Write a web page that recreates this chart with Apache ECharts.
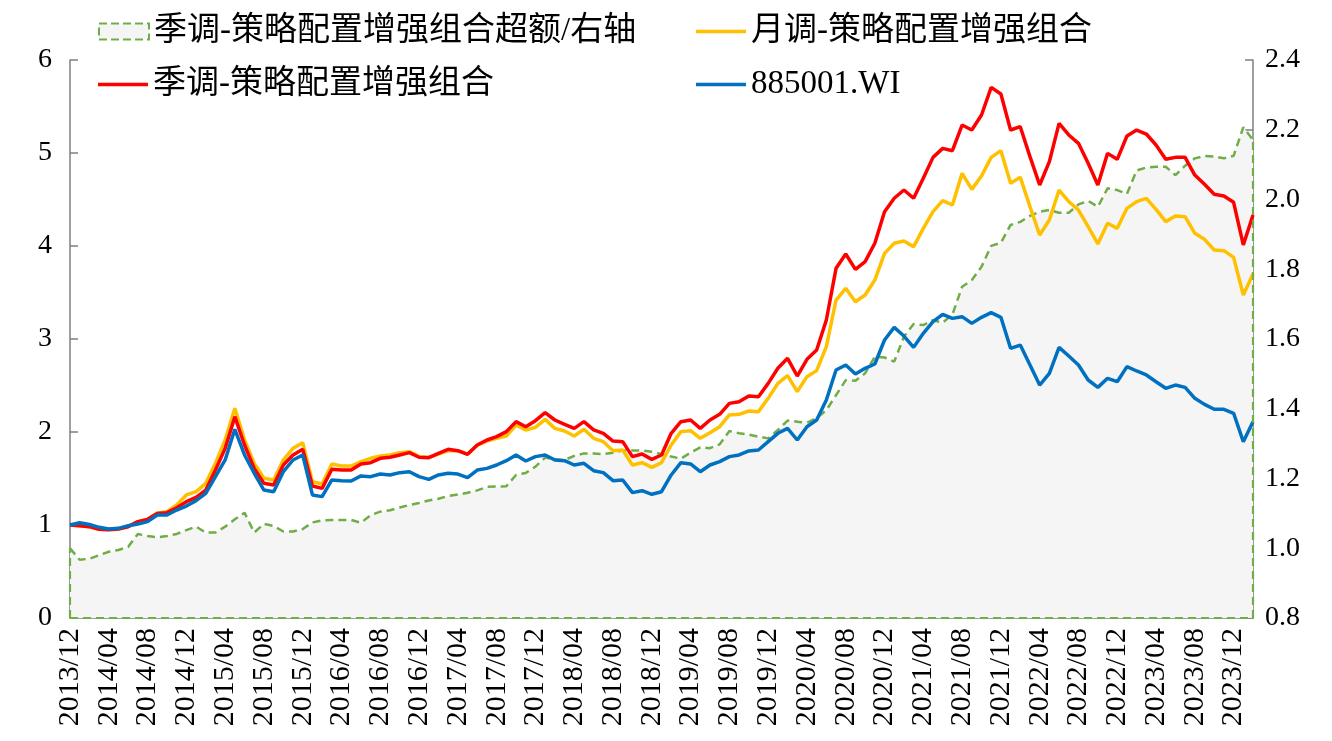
<!DOCTYPE html>
<html><head><meta charset="utf-8">
<script src="https://cdn.jsdelivr.net/npm/echarts@6/dist/echarts.min.js"></script>
<style>html,body{margin:0;padding:0;background:#fff}#c{width:1332px;height:741px}</style>
</head><body><div id="c"></div>
<script>
const categories = ['2013/12',
'2014/01','2014/02','2014/03','2014/04','2014/05','2014/06','2014/07','2014/08','2014/09','2014/10','2014/11','2014/12',
'2015/01','2015/02','2015/03','2015/04','2015/05','2015/06','2015/07','2015/08','2015/09','2015/10','2015/11','2015/12',
'2016/01','2016/02','2016/03','2016/04','2016/05','2016/06','2016/07','2016/08','2016/09','2016/10','2016/11','2016/12',
'2017/01','2017/02','2017/03','2017/04','2017/05','2017/06','2017/07','2017/08','2017/09','2017/10','2017/11','2017/12',
'2018/01','2018/02','2018/03','2018/04','2018/05','2018/06','2018/07','2018/08','2018/09','2018/10','2018/11','2018/12',
'2019/01','2019/02','2019/03','2019/04','2019/05','2019/06','2019/07','2019/08','2019/09','2019/10','2019/11','2019/12',
'2020/01','2020/02','2020/03','2020/04','2020/05','2020/06','2020/07','2020/08','2020/09','2020/10','2020/11','2020/12',
'2021/01','2021/02','2021/03','2021/04','2021/05','2021/06','2021/07','2021/08','2021/09','2021/10','2021/11','2021/12',
'2022/01','2022/02','2022/03','2022/04','2022/05','2022/06','2022/07','2022/08','2022/09','2022/10','2022/11','2022/12',
'2023/01','2023/02','2023/03','2023/04','2023/05','2023/06','2023/07','2023/08','2023/09','2023/10','2023/11','2023/12',
'2024/01','2024/02'];

const seriesNames = ['季调-策略配置增强组合超额/右轴','月调-策略配置增强组合','季调-策略配置增强组合','885001.WI'];

const excessQ = [1.000,
0.967,0.970,0.980,0.990,0.995,1.004,1.041,1.035,1.031,1.035,1.041,1.052,
1.062,1.045,1.045,1.062,1.083,1.102,1.045,1.070,1.064,1.048,1.048,1.055,
1.074,1.080,1.081,1.081,1.081,1.073,1.095,1.105,1.109,1.117,1.124,1.130,
1.137,1.142,1.150,1.154,1.159,1.166,1.176,1.177,1.178,1.210,1.216,1.234,
1.260,1.255,1.253,1.265,1.272,1.272,1.270,1.274,1.280,1.280,1.280,1.277,
1.270,1.263,1.257,1.274,1.289,1.287,1.298,1.336,1.330,1.326,1.320,1.315,
1.339,1.366,1.363,1.360,1.373,1.396,1.439,1.482,1.480,1.502,1.549,1.547,
1.535,1.607,1.643,1.640,1.654,1.647,1.670,1.750,1.769,1.807,1.867,1.876,
1.927,1.936,1.953,1.965,1.970,1.962,1.962,1.986,1.996,1.979,2.032,2.027,
2.016,2.083,2.092,2.094,2.094,2.070,2.097,2.118,2.125,2.123,2.118,2.125,
2.207,2.171];

const monthly = [1.000,
0.993,0.980,0.955,0.952,0.960,0.985,1.035,1.060,1.130,1.143,1.215,1.323,
1.358,1.448,1.663,1.914,2.254,1.914,1.663,1.502,1.484,1.699,1.824,1.885,
1.466,1.441,1.656,1.634,1.634,1.681,1.717,1.742,1.753,1.778,1.789,1.735,
1.728,1.763,1.799,1.799,1.763,1.860,1.903,1.932,1.957,2.075,2.022,2.050,
2.136,2.039,2.011,1.957,2.029,1.932,1.896,1.799,1.806,1.645,1.670,1.620,
1.670,1.860,2.004,2.014,1.932,1.993,2.057,2.183,2.190,2.226,2.219,2.362,
2.523,2.606,2.434,2.595,2.660,2.918,3.419,3.545,3.401,3.473,3.634,3.921,
4.029,4.054,3.993,4.190,4.369,4.487,4.441,4.781,4.609,4.753,4.953,5.025,
4.674,4.738,4.423,4.118,4.280,4.602,4.477,4.387,4.208,4.022,4.244,4.190,
4.405,4.477,4.513,4.394,4.262,4.323,4.315,4.136,4.072,3.957,3.950,3.878,
3.473,3.699];

const quarterly = [1.000,
0.993,0.982,0.955,0.950,0.957,0.982,1.036,1.061,1.125,1.133,1.186,1.251,
1.297,1.376,1.591,1.824,2.165,1.860,1.609,1.448,1.430,1.645,1.753,1.814,
1.419,1.394,1.599,1.591,1.591,1.656,1.670,1.717,1.728,1.753,1.778,1.728,
1.724,1.771,1.814,1.799,1.760,1.860,1.914,1.950,2.004,2.111,2.057,2.122,
2.208,2.129,2.082,2.039,2.111,2.022,1.986,1.903,1.896,1.735,1.763,1.706,
1.753,1.986,2.111,2.129,2.039,2.129,2.190,2.308,2.326,2.387,2.380,2.523,
2.685,2.792,2.602,2.781,2.882,3.204,3.760,3.914,3.749,3.832,4.029,4.369,
4.513,4.602,4.513,4.728,4.953,5.050,5.025,5.301,5.247,5.409,5.706,5.634,
5.247,5.283,4.961,4.656,4.907,5.319,5.194,5.104,4.889,4.656,4.996,4.932,
5.183,5.247,5.204,5.086,4.932,4.953,4.953,4.763,4.663,4.556,4.538,4.470,
4.011,4.333];

const index885001 = [1.000,
1.025,1.005,0.975,0.958,0.964,0.993,1.011,1.036,1.108,1.108,1.161,1.204,
1.262,1.341,1.520,1.699,2.029,1.753,1.556,1.376,1.358,1.573,1.699,1.753,
1.323,1.305,1.484,1.477,1.473,1.528,1.520,1.548,1.538,1.563,1.573,1.520,
1.491,1.538,1.556,1.548,1.509,1.591,1.609,1.645,1.692,1.753,1.688,1.735,
1.753,1.699,1.692,1.645,1.663,1.584,1.563,1.477,1.484,1.348,1.369,1.330,
1.358,1.538,1.670,1.656,1.573,1.645,1.681,1.735,1.753,1.796,1.806,1.896,
1.986,2.039,1.914,2.057,2.129,2.344,2.667,2.720,2.624,2.685,2.731,2.989,
3.125,3.032,2.910,3.061,3.186,3.265,3.222,3.240,3.168,3.233,3.283,3.233,
2.900,2.935,2.720,2.505,2.631,2.910,2.817,2.720,2.559,2.480,2.577,2.541,
2.703,2.656,2.613,2.541,2.470,2.505,2.480,2.362,2.297,2.244,2.244,2.201,
1.896,2.111];

const leftTicks = {min: 0, max: 6, interval: 1};
const rightTicks = {min: 0.8, max: 2.4, interval: 0.2};

const GREEN = '#70ad47', YELLOW = '#ffc000', RED = '#ff0000', BLUE = '#0070c0';
const FONT = "'Liberation Serif', 'Noto Sans CJK SC', serif";
const last = categories.length - 1;

const chart = echarts.init(document.getElementById('c'), null, {renderer: 'canvas'});
const legendText = {fontFamily: FONT, fontSize: 33, color: '#000'};
function lg(item, left, top, h) {
  return {
    data: [item], left: left, top: top, itemWidth: 50, itemHeight: h, itemGap: 0,
    textStyle: legendText, selectedMode: false, padding: 0
  };
}
chart.setOption({
  animation: false,
  grid: {left: 70, right: 79, top: 60, bottom: 123, containLabel: false},
  legend: [
    lg({name: seriesNames[0], icon: 'rect', itemStyle: {color: '#f5f5f5', borderColor: GREEN, borderWidth: 2, borderType: 'dashed'}}, 98, 15, 16),
    lg({name: seriesNames[1], icon: 'rect', itemStyle: {color: YELLOW, borderWidth: 0}}, 696, 15, 3.5),
    lg({name: seriesNames[2], icon: 'rect', itemStyle: {color: RED, borderWidth: 0}}, 98, 68, 3.5),
    lg({name: seriesNames[3], icon: 'rect', itemStyle: {color: BLUE, borderWidth: 0}}, 696, 68, 3.5)
  ],
  xAxis: {
    type: 'category', data: categories, boundaryGap: false,
    axisLine: {lineStyle: {color: '#7f7f7f', width: 1.5}},
    axisTick: {inside: true, interval: 3, length: 8, lineStyle: {color: '#7f7f7f', width: 1.5}},
    axisLabel: {interval: 3, rotate: 90, margin: 10, fontFamily: FONT, fontSize: 30, color: '#000'},
    splitLine: {show: false}
  },
  yAxis: [
    {type: 'value', min: leftTicks.min, max: leftTicks.max, interval: leftTicks.interval,
     axisLine: {show: true, lineStyle: {color: '#7f7f7f', width: 1.5}},
     axisTick: {show: true, inside: true, length: 8, lineStyle: {color: '#7f7f7f', width: 1.5}},
     axisLabel: {margin: 18, fontFamily: FONT, fontSize: 28, color: '#000'},
     splitLine: {show: false}},
    {type: 'value', min: rightTicks.min, max: rightTicks.max, interval: rightTicks.interval, position: 'right',
     axisLine: {show: true, lineStyle: {color: '#7f7f7f', width: 1.5}},
     axisTick: {show: true, inside: true, length: 8, lineStyle: {color: '#7f7f7f', width: 1.5}},
     axisLabel: {margin: 12, fontFamily: FONT, fontSize: 28, color: '#000', formatter: v => v.toFixed(1)},
     splitLine: {show: false}}
  ],
  series: [
    {name: seriesNames[0], type: 'line', yAxisIndex: 1, data: excessQ, showSymbol: false, symbol: 'none',
     lineStyle: {color: GREEN, width: 2.5, type: [8, 5]}, itemStyle: {color: GREEN},
     areaStyle: {color: '#f5f5f5', opacity: 1, origin: 'start'}, z: 1,
     markLine: {silent: true, symbol: 'none', label: {show: false},
       lineStyle: {color: GREEN, width: 2.2, type: [8, 5]},
       data: [
         [{coord: [categories[0], rightTicks.min]}, {coord: [categories[0], excessQ[0]]}],
         [{coord: [categories[last], rightTicks.min]}, {coord: [categories[last], excessQ[last]]}],
         [{coord: [categories[0], rightTicks.min]}, {coord: [categories[last], rightTicks.min]}]
       ]}},
    {name: seriesNames[1], type: 'line', data: monthly, showSymbol: false, symbol: 'none',
     lineStyle: {color: YELLOW, width: 3.5}, itemStyle: {color: YELLOW}, z: 2},
    {name: seriesNames[2], type: 'line', data: quarterly, showSymbol: false, symbol: 'none',
     lineStyle: {color: RED, width: 3.5}, itemStyle: {color: RED}, z: 3},
    {name: seriesNames[3], type: 'line', data: index885001, showSymbol: false, symbol: 'none',
     lineStyle: {color: BLUE, width: 3.5}, itemStyle: {color: BLUE}, z: 4}
  ]
});
</script></body></html>
